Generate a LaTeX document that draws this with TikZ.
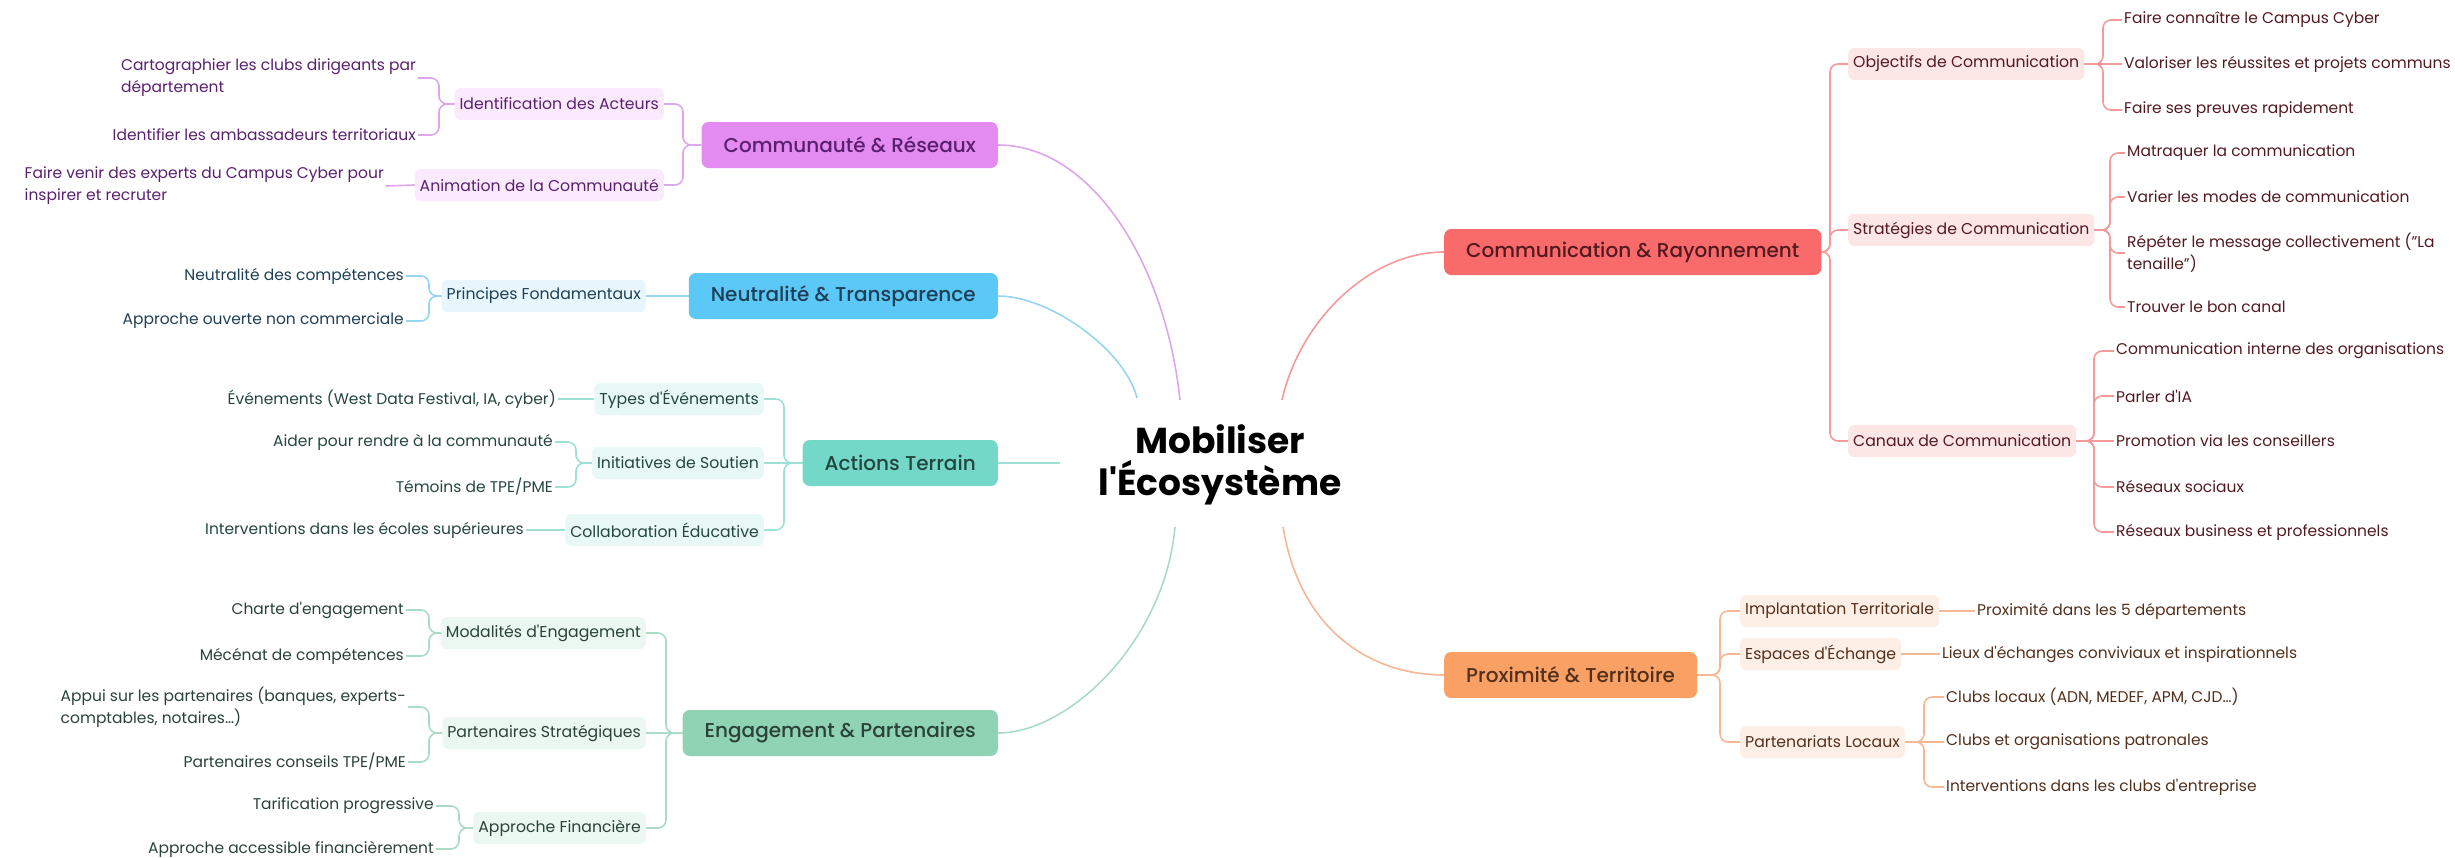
\documentclass[tikz,border=0pt]{standalone}
\usepackage{fontspec}
\setmainfont{Poppins}
\IfFontExistsTF{Poppins Medium}{\newfontfamily\medfont{Poppins Medium}}{\newfontfamily\medfont{Poppins}}
\newcommand\apo{\textquotesingle}
\definecolor{vioM}{HTML}{E38BF0}\definecolor{vioS}{HTML}{FBEAFD}\definecolor{vioL}{HTML}{DDA6EA}\definecolor{vioD}{HTML}{5A2070}
\definecolor{bluM}{HTML}{5BC8F7}\definecolor{bluS}{HTML}{E7F6FD}\definecolor{bluL}{HTML}{96D5F0}\definecolor{bluD}{HTML}{1E3F55}
\definecolor{teaM}{HTML}{74D8C8}\definecolor{teaS}{HTML}{E8F8F5}\definecolor{teaL}{HTML}{9FE0D6}\definecolor{teaD}{HTML}{24463F}
\definecolor{grnM}{HTML}{8FD3B4}\definecolor{grnS}{HTML}{EBF7F1}\definecolor{grnL}{HTML}{A9DCC4}\definecolor{grnD}{HTML}{2A4238}
\definecolor{redM}{HTML}{F96B6B}\definecolor{redS}{HTML}{FDE6E6}\definecolor{redL}{HTML}{F49A9A}\definecolor{redD}{HTML}{521A20}
\definecolor{oraM}{HTML}{F9A064}\definecolor{oraS}{HTML}{FEEFE6}\definecolor{oraL}{HTML}{F6B795}\definecolor{oraD}{HTML}{52301C}
\tikzset{main/.style = {rounded corners=7pt, minimum height=46pt, inner xsep=22pt, fill=#1M, text=#1D,
        font=\medfont\fontsize{20}{24}\selectfont},
    sub/.style  = {rounded corners=6pt, minimum height=32pt, inner xsep=5pt, fill=#1S, text=#1D,
        font=\fontsize{15.7}{18}\selectfont},
    leaf/.style = {inner sep=2pt, align=left, text=#1D, font=\fontsize{15.5}{22}\selectfont},
    ln/.style   = {draw=#1L, line width=1.6pt, rounded corners=8pt}}

\begin{document}
\begin{tikzpicture}[x=1pt, y=-1pt]
        \useasboundingbox (0,0) rectangle (2455,857);
        \node[align=center, font=\bfseries\fontsize{36}{42}\selectfont] (mob) at (1220,465) {Mobiliser\\l\apo Écosystème};
        \foreach \n/\x/\y in {cVio/1180/400, cBlu/1137/398, cTea/1060/463, cGrn/1175/527, cRed/1282/400, cOra/1283/527}
            \coordinate (\n) at (\x,\y);

        % main branches
        \node[main=vio, anchor=east] (commu) at (998,145) {Communauté \& Réseaux};
        \node[main=blu, anchor=east] (neut) at (998,296) {Neutralité \& Transparence};
        \node[main=tea, anchor=east] (actT) at (998,463) {Actions Terrain};
        \node[main=grn, anchor=east] (engP) at (998,733) {Engagement \& Partenaires};
        \node[main=red, anchor=west] (comR) at (1444,252) {Communication \& Rayonnement};
        \node[main=ora, anchor=west] (proxT) at (1444,675) {Proximité \& Territoire};

        \draw[ln=vio] (cVio) .. controls (1165,260) and (1090,145) .. (commu.east);
        \draw[ln=blu] (cBlu) .. controls (1125,350) and (1050,296) .. (neut.east);
        \draw[ln=tea] (cTea) -- (actT.east);
        \draw[ln=grn] (cGrn) .. controls (1165,640) and (1070,733) .. (engP.east);
        \draw[ln=red] (cRed) .. controls (1300,320) and (1370,252) .. (comR.west);
        \draw[ln=ora] (cOra) .. controls (1300,630) and (1370,675) .. (proxT.west);

        % left side
        \node[sub=vio, anchor=east] (ident) at (664,104) {Identification des Acteurs};
        \node[sub=vio, anchor=east] (anim) at (664,185) {Animation de la Communauté};
        \node[sub=blu, anchor=east] (princ) at (646,296) {Principes Fondamentaux};
        \node[sub=tea, anchor=east] (typesE) at (764,399) {Types d\apo Événements};
        \node[sub=tea, anchor=east] (initS) at (764,463) {Initiatives de Soutien};
        \node[sub=tea, anchor=east] (collE) at (764,530) {Collaboration Éducative};
        \node[sub=grn, anchor=east] (modE) at (646,633) {Modalités d\apo Engagement};
        \node[sub=grn, anchor=east] (partS) at (646,733) {Partenaires Stratégiques};
        \node[sub=grn, anchor=east] (appF) at (646,828) {Approche Financière};

        \node[leaf=vio, anchor=east] (cart) at (418,78) {Cartographier les clubs dirigeants par\\département};
        \node[leaf=vio, anchor=east] (ambas) at (418,135) {Identifier les ambassadeurs territoriaux};
        \node[leaf=vio, anchor=east] (expert) at (386,186) {Faire venir des experts du Campus Cyber pour\\inspirer et recruter};
        \node[leaf=blu, anchor=east] (neutC) at (406,276) {Neutralité des compétences};
        \node[leaf=blu, anchor=east] (approO) at (406,321) {Approche ouverte non commerciale};
        \node[leaf=tea, anchor=east] (even) at (558,399) {Événements (West Data Festival, IA, cyber)};
        \node[leaf=tea, anchor=east] (aider) at (555,442) {Aider pour rendre à la communauté};
        \node[leaf=tea, anchor=east] (temo) at (555,487) {Témoins de TPE/PME};
        \node[leaf=tea, anchor=east] (interE) at (526,530) {Interventions dans les écoles supérieures};
        \node[leaf=grn, anchor=east] (charte) at (406,610) {Charte d\apo engagement};
        \node[leaf=grn, anchor=east] (mecen) at (406,656) {Mécénat de compétences};
        \node[leaf=grn, anchor=east] (appui) at (408,707) {Appui sur les partenaires (banques, experts-\\comptables, notaires…)};
        \node[leaf=grn, anchor=east] (partC) at (408,762) {Partenaires conseils TPE/PME};
        \node[leaf=grn, anchor=east] (tarif) at (436,806) {Tarification progressive};
        \node[leaf=grn, anchor=east] (accF) at (436,849) {Approche accessible financièrement};

        \foreach \n/\x in {sCommu/683, sIdent/439, sPrinc/429, sActT/784, sInitS/576, sEngP/666, sModE/429, sPartS/429, sAppF/459}
            \coordinate (\n) at (\x,0);

        \foreach \n in {ident, anim} \draw[ln=vio] (commu.west) -- (commu.west -| sCommu) |- (\n.east);
        \foreach \n in {cart, ambas} \draw[ln=vio] (ident.west) -- (ident.west -| sIdent) |- (\n.east);
        \draw[ln=vio] (anim.west) -- (expert.east);
        \draw[ln=blu] (neut.west) -- (princ.east);
        \foreach \n in {neutC, approO} \draw[ln=blu] (princ.west) -- (princ.west -| sPrinc) |- (\n.east);
        \foreach \n in {typesE, collE} \draw[ln=tea] (actT.west) -- (actT.west -| sActT) |- (\n.east);
        \draw[ln=tea] (actT.west) -- (initS.east);
        \draw[ln=tea] (typesE.west) -- (even.east);
        \foreach \n in {aider, temo} \draw[ln=tea] (initS.west) -- (initS.west -| sInitS) |- (\n.east);
        \draw[ln=tea] (collE.west) -- (interE.east);
        \foreach \n in {modE, appF} \draw[ln=grn] (engP.west) -- (engP.west -| sEngP) |- (\n.east);
        \draw[ln=grn] (engP.west) -- (partS.east);
        \foreach \n in {charte, mecen} \draw[ln=grn] (modE.west) -- (modE.west -| sModE) |- (\n.east);
        \foreach \n in {appui, partC} \draw[ln=grn] (partS.west) -- (partS.west -| sPartS) |- (\n.east);
        \foreach \n in {tarif, accF} \draw[ln=grn] (appF.west) -- (appF.west -| sAppF) |- (\n.east);

        % right side
        \node[sub=red, anchor=west] (objC) at (1848,64) {Objectifs de Communication};
        \node[sub=red, anchor=west] (strC) at (1848,230) {Stratégies de Communication};
        \node[sub=red, anchor=west] (canC) at (1848,441) {Canaux de Communication};
        \node[sub=ora, anchor=west] (implT) at (1740,611) {Implantation Territoriale};
        \node[sub=ora, anchor=west] (espE) at (1740,654) {Espaces d\apo Échange};
        \node[sub=ora, anchor=west] (partL) at (1740,742) {Partenariats Locaux};

        \node[leaf=red, anchor=west] (fairC) at (2122,20) {Faire connaître le Campus Cyber};
        \node[leaf=red, anchor=west] (valor) at (2122,64) {Valoriser les réussites et projets communs};
        \node[leaf=red, anchor=west] (preuv) at (2122,110) {Faire ses preuves rapidement};
        \node[leaf=red, anchor=west] (matra) at (2125,153) {Matraquer la communication};
        \node[leaf=red, anchor=west] (varier) at (2125,197) {Varier les modes de communication};
        \node[leaf=red, anchor=west] (repet) at (2125,253) {Répéter le message collectivement ("La\\tenaille")};
        \node[leaf=red, anchor=west] (trouv) at (2125,307) {Trouver le bon canal};
        \node[leaf=red, anchor=west] (cInt) at (2114,351) {Communication interne des organisations};
        \node[leaf=red, anchor=west] (parl) at (2114,396) {Parler d\apo IA};
        \node[leaf=red, anchor=west] (promo) at (2114,441) {Promotion via les conseillers};
        \node[leaf=red, anchor=west] (resS) at (2114,487) {Réseaux sociaux};
        \node[leaf=red, anchor=west] (resB) at (2114,532) {Réseaux business et professionnels};
        \node[leaf=ora, anchor=west] (proxD) at (1975,611) {Proximité dans les 5 départements};
        \node[leaf=ora, anchor=west] (lieux) at (1940,654) {Lieux d\apo échanges conviviaux et inspirationnels};
        \node[leaf=ora, anchor=west] (clubL) at (1944,697) {Clubs locaux (ADN, MEDEF, APM, CJD…)};
        \node[leaf=ora, anchor=west] (clubO) at (1944,742) {Clubs et organisations patronales};
        \node[leaf=ora, anchor=west] (interC) at (1944,787) {Interventions dans les clubs d\apo entreprise};

        \foreach \n/\x in {sComR/1830, sObjC/2103, sStrC/2110, sCanC/2094, sProxT/1720, sPartL/1924}
            \coordinate (\n) at (\x,0);

        \foreach \n in {objC, strC, canC} \draw[ln=red] (comR.east) -- (comR.east -| sComR) |- (\n.west);
        \foreach \n in {fairC, preuv} \draw[ln=red] (objC.east) -- (objC.east -| sObjC) |- (\n.west);
        \draw[ln=red] (objC.east) -- (valor.west);
        \foreach \n in {matra, varier, repet, trouv} \draw[ln=red] (strC.east) -- (strC.east -| sStrC) |- (\n.west);
        \foreach \n in {cInt, parl, resS, resB} \draw[ln=red] (canC.east) -- (canC.east -| sCanC) |- (\n.west);
        \draw[ln=red] (canC.east) -- (promo.west);
        \foreach \n in {implT, espE, partL} \draw[ln=ora] (proxT.east) -- (proxT.east -| sProxT) |- (\n.west);
        \draw[ln=ora] (implT.east) -- (proxD.west);
        \draw[ln=ora] (espE.east) -- (lieux.west);
        \foreach \n in {clubL, interC} \draw[ln=ora] (partL.east) -- (partL.east -| sPartL) |- (\n.west);
        \draw[ln=ora] (partL.east) -- (clubO.west);
    \end{tikzpicture}
\end{document}
